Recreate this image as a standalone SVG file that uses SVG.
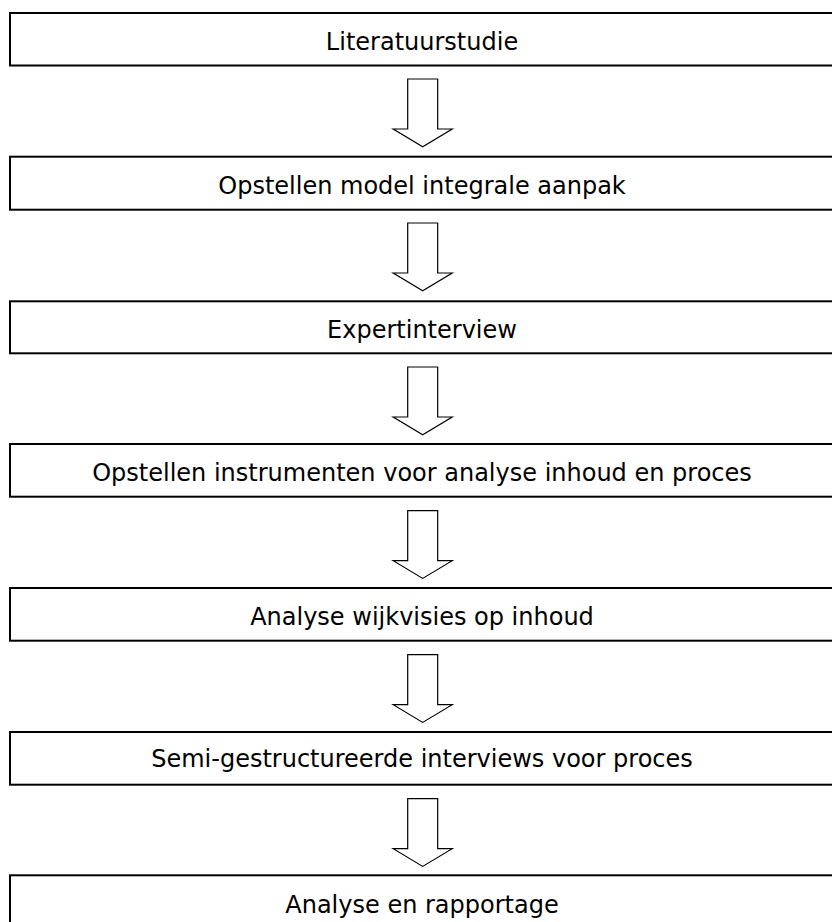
<svg xmlns="http://www.w3.org/2000/svg" width="832" height="922" viewBox="0 0 832 922">
<style>
.box{fill:#fff;stroke:#000;stroke-width:2}
.lbl{font-family:"DejaVu Sans",Verdana,sans-serif;font-size:24px;fill:#000;text-anchor:middle}
.arr{fill:#fff;stroke:#000;stroke-width:1.2;stroke-linejoin:miter}
</style>
<defs>
<path id="ar" d="M-15,0 H15 V50 H29.5 L0,67.7 L-29.5,50 H-15 Z"/>
</defs>
<g id="connectors">
<use href="#ar" class="arr" x="422.7" y="79"/>
<use href="#ar" class="arr" x="422.7" y="223"/>
<use href="#ar" class="arr" x="422.7" y="367"/>
<use href="#ar" class="arr" x="422.7" y="510.7"/>
<use href="#ar" class="arr" x="422.7" y="654.7"/>
<use href="#ar" class="arr" x="422.7" y="798.7"/>
</g>
<g id="n1"><rect class="box" x="10" y="13" width="830" height="52.5"/><text class="lbl" x="422" y="50">Literatuurstudie</text></g>
<g id="n2"><rect class="box" x="10" y="156.7" width="830" height="53"/><text class="lbl" x="422" y="194">Opstellen model integrale aanpak</text></g>
<g id="n3"><rect class="box" x="10" y="301.3" width="830" height="52"/><text class="lbl" x="422" y="338">Expertinterview</text></g>
<g id="n4"><rect class="box" x="10" y="444" width="830" height="52.7"/><text class="lbl" x="422" y="481">Opstellen instrumenten voor analyse inhoud en proces</text></g>
<g id="n5"><rect class="box" x="10" y="588" width="830" height="52.7"/><text class="lbl" x="422" y="625">Analyse wijkvisies op inhoud</text></g>
<g id="n6"><rect class="box" x="10" y="732" width="830" height="52.7"/><text class="lbl" x="422" y="767">Semi-gestructureerde interviews voor proces</text></g>
<g id="n7"><rect class="box" x="10" y="875.3" width="830" height="60"/><text class="lbl" x="422" y="913">Analyse en rapportage</text></g>
</svg>
